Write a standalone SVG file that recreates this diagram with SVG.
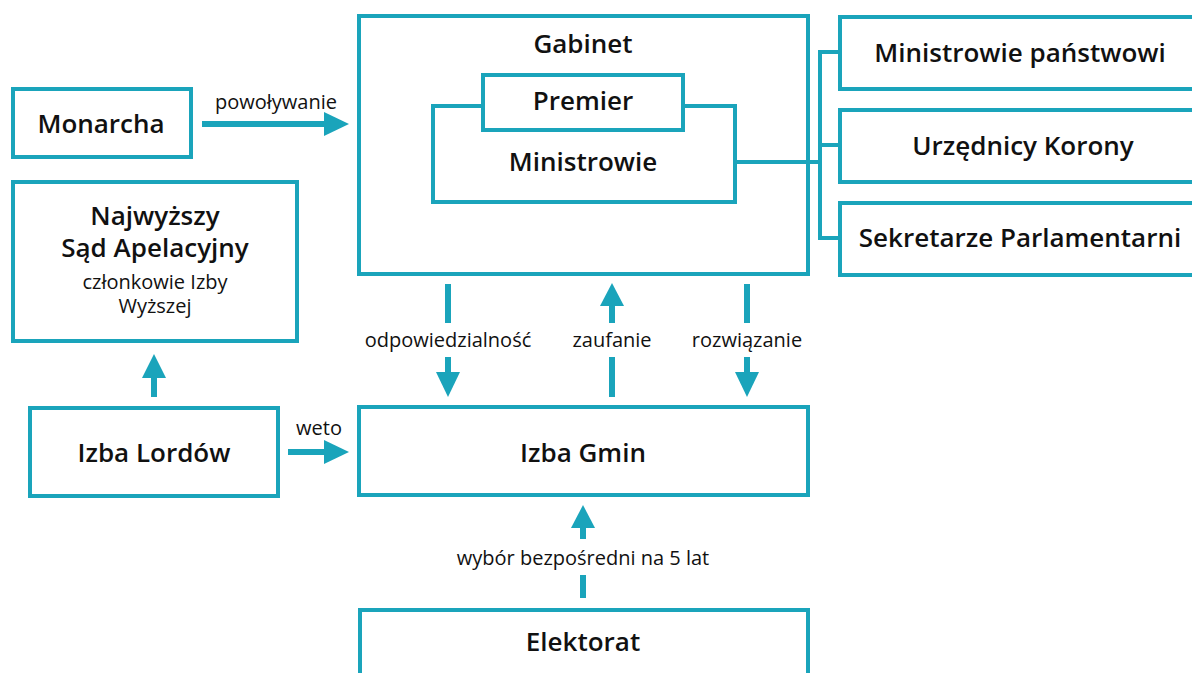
<svg xmlns="http://www.w3.org/2000/svg" width="1192" height="673" viewBox="0 0 1192 673">
<style>
.box{fill:#fff;stroke:#1aa4bb;stroke-width:4}
.ln{fill:none;stroke:#1aa4bb;stroke-width:4}
.sh{stroke:#1aa4bb;stroke-width:6;fill:none}
.hd{fill:#1aa4bb}
.t{font-family:"Open Sans","Noto Sans",sans-serif;font-weight:600;font-size:26px;fill:#111;text-anchor:middle}
.l{font-family:"Open Sans","Noto Sans",sans-serif;font-weight:400;font-size:20px;fill:#111;text-anchor:middle}
</style>
<rect width="1192" height="673" fill="#fff"/>
<g id="monarcha">
  <rect class="box" x="13" y="89" width="178" height="68"/>
  <text class="t" x="101" y="133">Monarcha</text>
</g>
<g id="gabinet">
  <rect class="box" x="359" y="16" width="449" height="258"/>
  <text class="t" x="583" y="53">Gabinet</text>
</g>
<g id="ministrowie">
  <polyline class="ln" points="483,106 433,106 433,202 735,202 735,106 683,106"/>
  <text class="t" x="583" y="171">Ministrowie</text>
</g>
<g id="premier">
  <rect class="box" x="483" y="75" width="200" height="55"/>
  <text class="t" x="583" y="110">Premier</text>
</g>
<g id="ministrowie-panstwowi">
  <rect class="box" x="840" y="17" width="370" height="72"/>
  <text class="t" x="1020" y="62">Ministrowie państwowi</text>
</g>
<g id="urzednicy-korony">
  <rect class="box" x="840" y="110" width="370" height="72"/>
  <text class="t" x="1023" y="155">Urzędnicy Korony</text>
</g>
<g id="sekretarze">
  <rect class="box" x="840" y="203" width="370" height="72"/>
  <text class="t" x="1020" y="247">Sekretarze Parlamentarni</text>
</g>
<g id="sad-apelacyjny">
  <rect class="box" x="13" y="182" width="284" height="159"/>
  <text class="t" x="155" y="225">Najwyższy</text>
  <text class="t" x="155" y="257">Sąd Apelacyjny</text>
  <text class="l" x="155" y="289">członkowie Izby</text>
  <text class="l" x="155" y="313">Wyższej</text>
</g>
<g id="izba-lordow">
  <rect class="box" x="30" y="408" width="248" height="88"/>
  <text class="t" x="154" y="462">Izba Lordów</text>
</g>
<g id="izba-gmin">
  <rect class="box" x="359" y="407" width="449" height="88"/>
  <text class="t" x="583" y="462">Izba Gmin</text>
</g>
<g id="elektorat">
  <rect class="box" x="360" y="610" width="448" height="80"/>
  <text class="t" x="583" y="651">Elektorat</text>
</g>
<g id="connectors">
  <line class="sh" x1="202" y1="124" x2="326" y2="124"/>
  <polygon class="hd" points="324,112 349,124 324,136"/>
  <line class="sh" x1="288" y1="452" x2="326" y2="452"/>
  <polygon class="hd" points="324,440 349,452 324,464"/>
  <line class="sh" x1="154" y1="376" x2="154" y2="397"/>
  <polygon class="hd" points="142,378 154,354 166,378"/>
  <line class="sh" x1="448" y1="284" x2="448" y2="323"/>
  <line class="sh" x1="448" y1="357" x2="448" y2="374"/>
  <polygon class="hd" points="436,372 448,397 460,372"/>
  <line class="sh" x1="612" y1="304" x2="612" y2="323"/>
  <polygon class="hd" points="600,306 612,283 624,306"/>
  <line class="sh" x1="612" y1="357" x2="612" y2="397"/>
  <line class="sh" x1="747" y1="284" x2="747" y2="323"/>
  <line class="sh" x1="747" y1="357" x2="747" y2="374"/>
  <polygon class="hd" points="735,372 747,397 759,372"/>
  <line class="sh" x1="583" y1="526" x2="583" y2="539"/>
  <polygon class="hd" points="571,528 583,505 595,528"/>
  <line class="sh" x1="583" y1="575" x2="583" y2="598"/>
  <line class="ln" x1="735" y1="162" x2="820" y2="162"/>
  <polyline class="ln" points="840,52 820,52 820,238 840,238"/>
  <line class="ln" x1="820" y1="145" x2="840" y2="145"/>
  <text class="l" x="276" y="109">powoływanie</text>
  <text class="l" x="319" y="435">weto</text>
  <text class="l" x="448" y="347">odpowiedzialność</text>
  <text class="l" x="612" y="347">zaufanie</text>
  <text class="l" x="747" y="347">rozwiązanie</text>
  <text class="l" x="583" y="565">wybór bezpośredni na 5 lat</text>
</g>
</svg>
